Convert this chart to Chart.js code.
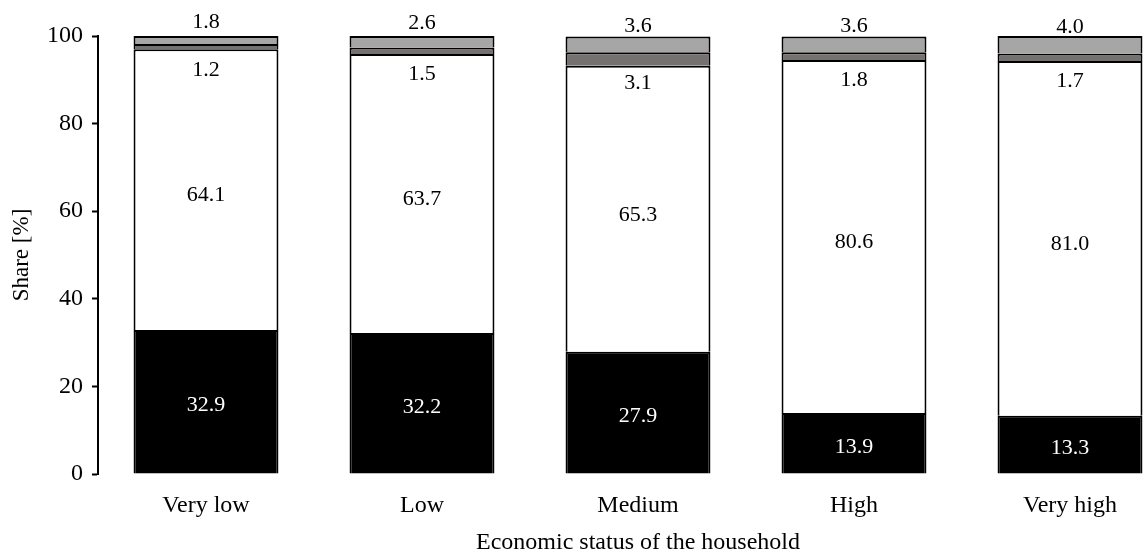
<!DOCTYPE html>
<html>
<head>
<meta charset="utf-8">
<script src="https://cdn.jsdelivr.net/npm/chart.js@4.4.1/dist/chart.umd.min.js"></script>
<style>
  html, body { margin: 0; padding: 0; background: #ffffff; overflow: hidden; }
  #wrap { width: 1144px; height: 552px; overflow: hidden; }
  canvas { display: block; }
</style>
</head>
<body>
<div id="wrap"><canvas id="chart" width="1180" height="552"></canvas></div>
<script>
// Household economic status groups
const categories = ['Very low', 'Low', 'Medium', 'High', 'Very high'];

// Shares per group, in percent (bottom to top of each stack)
const shareBlack     = [32.9, 32.2, 27.9, 13.9, 13.3];
const shareWhite     = [64.1, 63.7, 65.3, 80.6, 81.0];
const shareDarkGray  = [1.2, 1.5, 3.1, 1.8, 1.7];
const shareLightGray = [1.8, 2.6, 3.6, 3.6, 4.0];

const yTicks = [0, 20, 40, 60, 80, 100];

const FONT = 'Liberation Serif, "Times New Roman", serif';

// Value labels: centred in the big segments, below the thin dark segment, above the top segment
const valueLabels = {
  id: 'valueLabels',
  afterDatasetsDraw(chart) {
    const ctx = chart.ctx;
    ctx.save();
    ctx.font = '22px ' + FONT;
    ctx.textAlign = 'center';
    ctx.textBaseline = 'middle';
    chart.data.datasets.forEach((ds, di) => {
      const meta = chart.getDatasetMeta(di);
      meta.data.forEach((bar, i) => {
        const v = ds.data[i];
        const mid = (bar.y + bar.base) / 2;
        let y = mid + 4;
        if (di === 1) y = mid + 6;
        if (di === 2) y = mid + 24;
        if (di === 3) y = mid - 18;
        ctx.fillStyle = di === 0 ? '#ffffff' : '#000000';
        ctx.fillText(v.toFixed(1), bar.x, y);
      });
    });
    ctx.restore();
  }
};

const seg = (label, data, color) => ({
  label,
  data,
  backgroundColor: color,
  borderColor: '#000000',
  borderWidth: { top: 2, left: 2, right: 2, bottom: 0 },
  borderSkipped: 'start',
  categoryPercentage: 1.0,
  barPercentage: 0.671
});

new Chart(document.getElementById('chart'), {
  type: 'bar',
  data: {
    labels: categories,
    datasets: [
      seg('Black', shareBlack, '#000000'),
      seg('White', shareWhite, '#ffffff'),
      seg('Dark gray', shareDarkGray, '#767171'),
      seg('Light gray', shareLightGray, '#a6a6a6')
    ]
  },
  options: {
    responsive: false,
    animation: false,
    layout: { padding: { top: 36, right: 2, bottom: 0, left: 0 } },
    plugins: {
      legend: { display: false },
      tooltip: { enabled: false }
    },
    scales: {
      x: {
        stacked: true,
        grid: { display: false, drawTicks: false },
        border: { display: false },
        ticks: {
          color: '#000000',
          font: { family: FONT, size: 24 },
          padding: 17,
          maxRotation: 0
        },
        title: {
          display: true,
          text: 'Economic status of the household',
          color: '#000000',
          font: { family: FONT, size: 24, lineHeight: 0.8 },
          padding: 0
        },
        afterFit(scale) { scale.height = 78; }
      },
      y: {
        stacked: true,
        min: 0,
        max: 100,
        afterBuildTicks(scale) { scale.ticks = yTicks.map(v => ({ value: v })); },
        grid: {
          display: true,
          drawOnChartArea: false,
          drawTicks: true,
          tickLength: 6,
          tickWidth: 2,
          color: '#000000'
        },
        border: { display: true, color: '#000000', width: 2 },
        ticks: {
          color: '#000000',
          font: { family: FONT, size: 24 },
          padding: 9
        },
        title: {
          display: true,
          text: 'Share [%]',
          color: '#000000',
          font: { family: FONT, size: 23, lineHeight: 1 },
          padding: { top: 10, bottom: 0 }
        },
        afterFit(scale) { scale.width = 98; }
      }
    }
  },
  plugins: [valueLabels]
});
</script>
</body>
</html>
